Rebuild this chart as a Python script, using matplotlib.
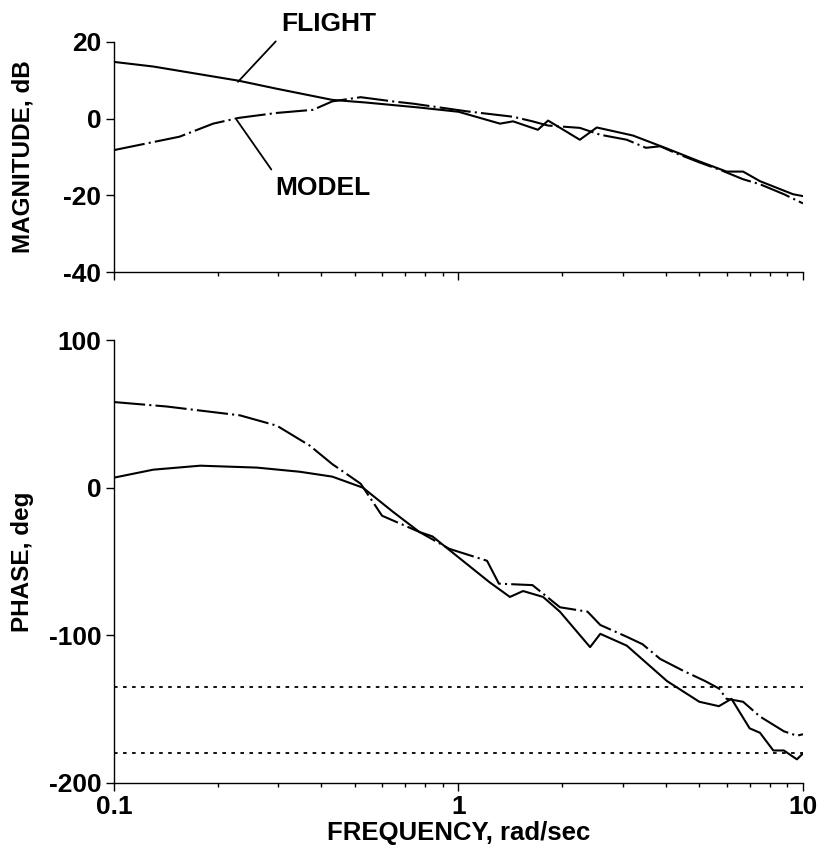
import matplotlib
matplotlib.use("Agg")
import matplotlib.pyplot as plt
from matplotlib.ticker import LogLocator, NullFormatter, FixedLocator

plt.rcParams['font.family'] = ['Liberation Sans', 'DejaVu Sans']
plt.rcParams['font.weight'] = 'bold'

# magnitude, flight test
mag_flight_f = [0.1, 0.13, 0.23, 0.297, 0.43, 0.54, 0.77, 1.0, 1.32, 1.44, 1.70, 1.82,
                2.25, 2.52, 3.21, 4.03, 5.02, 6.0, 6.7, 7.5, 9.35, 10.0]
mag_flight_db = [14.8, 13.6, 9.9, 7.8, 4.9, 4.2, 2.9, 1.8, -1.3, -0.7, -2.9, -0.5,
                 -5.5, -2.3, -4.4, -7.8, -11.2, -13.8, -13.8, -16.3, -19.7, -20.2]

# magnitude, model
mag_model_f = [0.1, 0.155, 0.194, 0.23, 0.297, 0.378, 0.43, 0.52, 0.645, 0.74, 1.06, 1.44,
               1.64, 1.82, 2.25, 2.58, 3.08, 3.5, 3.85, 4.3, 5.0, 5.8, 6.7, 7.5, 8.8, 10.0]
mag_model_db = [-8.2, -4.7, -1.3, 0.2, 1.5, 2.3, 4.5, 5.6, 4.5, 3.9, 1.9, 0.5,
                -0.7, -1.8, -2.4, -4.2, -5.5, -7.6, -7.2, -9.1, -11.4, -13.5, -15.8, -17.1, -19.7, -22.1]

# phase, flight test
ph_flight_f = [0.1, 0.13, 0.178, 0.26, 0.346, 0.43, 0.528, 0.645, 0.77, 0.84, 1.23, 1.41,
               1.54, 1.76, 1.97, 2.41, 2.58, 3.08, 4.03, 5.0, 5.7, 6.2, 7.0, 7.5, 8.2,
               8.8, 9.6, 10.0]
ph_flight_deg = [6.8, 12.2, 14.9, 13.6, 10.8, 7.5, 0, -16.3, -30, -33, -64, -74,
                 -70, -74, -84, -108, -99, -107, -131, -145, -148, -143, -163, -166, -178,
                 -178, -184, -180]

# phase, model
ph_model_f = [0.1, 0.142, 0.232, 0.297, 0.37, 0.43, 0.52, 0.6, 0.77, 0.94, 1.21, 1.31,
              1.64, 1.97, 2.37, 2.58, 3.08, 3.42, 3.85, 4.49, 5.2, 5.7, 6.0, 6.7, 7.5,
              8.8, 9.6, 10.0]
ph_model_deg = [58, 55, 49, 42, 28.5, 16, 2.7, -19, -30, -41.4, -49.5, -65,
                -66, -81, -84, -93, -101, -106, -116, -124, -131, -136, -143, -145, -155,
                -165, -168, -167]

ref_phase = [-135, -180]

model_style = (0, (15, 2, 1, 2))
lw = 1.5

fig = plt.figure(figsize=(8.23, 8.48), dpi=100)
ax1 = fig.add_axes([0.1385, 0.6792, 0.8372, 0.2713])
ax2 = fig.add_axes([0.1385, 0.0767, 0.8372, 0.5223])

for ax in (ax1, ax2):
    ax.set_xscale('log')
    ax.set_xlim(0.1, 10)
    ax.spines['top'].set_visible(False)
    ax.spines['right'].set_visible(False)
    ax.spines['left'].set_linewidth(1.0)
    ax.spines['bottom'].set_linewidth(1.0)
    ax.xaxis.set_major_locator(FixedLocator([0.1, 1, 10]))
    ax.xaxis.set_minor_locator(LogLocator(base=10, subs=range(2, 10)))
    ax.xaxis.set_minor_formatter(NullFormatter())
    ax.tick_params(axis='both', which='major', direction='out', length=6, width=1,
                   labelsize=19, pad=3)
    ax.tick_params(axis='x', which='minor', direction='out', length=3, width=1)

ax1.plot(mag_flight_f, mag_flight_db, color='black', lw=lw)
ax1.plot(mag_model_f, mag_model_db, color='black', lw=lw, linestyle=model_style)
ax1.set_ylim(-40, 20)
ax1.set_yticks([-40, -20, 0, 20])
ax1.set_yticklabels(['-40', '-20', '0', '20'])
ax1.xaxis.set_major_formatter(NullFormatter())
ax1.set_ylabel('MAGNITUDE, dB', fontsize=17.5, fontweight='bold')
ax1.yaxis.set_label_coords(-0.116, 0.5)

ax1.annotate('FLIGHT', xy=(0.229, 9.6), xytext=(0.42, 24.8), textcoords='data',
             fontsize=19, fontweight='bold', ha='center', va='center',
             arrowprops=dict(arrowstyle='-', color='black', lw=1.3, shrinkA=3, shrinkB=0,
                             relpos=(0.0, 0.0)),
             annotation_clip=False)
ax1.annotate('MODEL', xy=(0.227, -0.3), xytext=(0.405, -18.0), textcoords='data',
             fontsize=19, fontweight='bold', ha='center', va='center',
             arrowprops=dict(arrowstyle='-', color='black', lw=1.3, shrinkA=3, shrinkB=0,
                             relpos=(0.0, 1.0)))

ax2.plot(ph_flight_f, ph_flight_deg, color='black', lw=lw)
ax2.plot(ph_model_f, ph_model_deg, color='black', lw=lw, linestyle=model_style)
for r in ref_phase:
    ax2.axhline(r, color='black', lw=1.3, linestyle=(0, (2, 3)))
ax2.set_ylim(-200, 100)
ax2.set_yticks([-200, -100, 0, 100])
ax2.set_yticklabels(['-200', '-100', '0', '100'])
ax2.set_xticklabels(['0.1', '1', '10'])
ax2.set_ylabel('PHASE, deg', fontsize=17.5, fontweight='bold')
ax2.yaxis.set_label_coords(-0.116, 0.5)
ax2.set_xlabel('FREQUENCY, rad/sec', fontsize=18.5, fontweight='bold', labelpad=1)

for ax in (ax1, ax2):
    for lab in ax.get_xticklabels() + ax.get_yticklabels():
        lab.set_fontweight('bold')

fig.savefig('out.png', dpi=100)
